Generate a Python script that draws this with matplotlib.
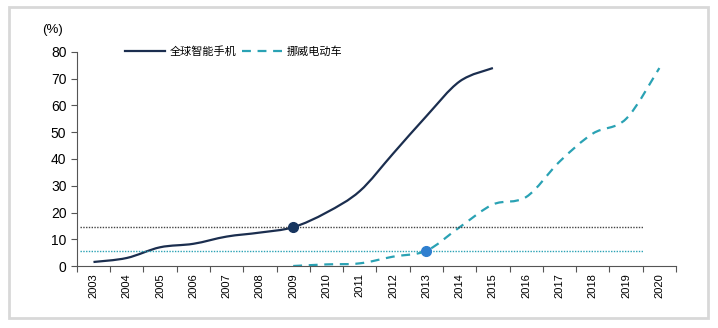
import numpy as np
import matplotlib.pyplot as plt
from matplotlib.patches import Rectangle, PathPatch
from matplotlib.path import Path
from matplotlib.lines import Line2D

plt.rcParams['font.family'] = ['Liberation Sans', 'Noto Sans CJK SC', 'DejaVu Sans']

years = [str(y) for y in range(2003, 2021)]
phone_years = list(range(2003, 2016))
phone_share = [1.5, 3.0, 7.0, 8.3, 11.0, 12.5, 14.5, 20.0, 28.0, 42.0, 56.0, 69.0, 74.0]
ev_years = list(range(2009, 2021))
ev_share = [0.0, 0.6, 1.0, 3.5, 5.7, 14.5, 23.0, 25.8, 39.0, 49.5, 55.0, 74.0]
phone_ref = 14.5
ev_ref = 5.7

navy = '#1b2e4f'
teal = '#2aa2b4'


def smooth_path(x, y):
    # Excel-style smoothed line: cubic Bezier through every data point
    p = np.column_stack([x, y]).astype(float)
    n = len(p)
    verts = [p[0]]
    codes = [Path.MOVETO]
    for i in range(n - 1):
        p0 = p[i - 1] if i > 0 else p[i]
        p3 = p[i + 2] if i + 2 < n else p[i + 1]
        c1 = p[i] + (p[i + 1] - p0) / 6
        c2 = p[i + 1] - (p3 - p[i]) / 6
        verts += [c1, c2, p[i + 1]]
        codes += [Path.CURVE4] * 3
    return Path(verts, codes)


fig = plt.figure(figsize=(7.18, 3.28), dpi=100)
ax = fig.add_axes([0.107, 0.189, 0.8345, 0.6525])

xp = [y - 2003 for y in phone_years]
xe = [y - 2003 for y in ev_years]

ax.plot([-0.4, 16.5], [phone_ref, phone_ref], color='#444444', lw=1.0, ls=(0, (1, 1)))
ax.plot([-0.4, 16.5], [ev_ref, ev_ref], color=teal, lw=1.0, ls=(0, (1, 1)))

ax.add_patch(PathPatch(smooth_path(xp, phone_share), fill=False, edgecolor=navy, lw=1.6))
ax.add_patch(PathPatch(smooth_path(xe, ev_share), fill=False, edgecolor=teal, lw=1.6,
                       ls=(0, (4, 3))))

ax.plot(6, phone_ref, 'o', color='#17355f', ms=7, zorder=5)
ax.plot(10, ev_ref, 'o', color='#2f7fcf', ms=7, zorder=5)

ax.set_xlim(-0.5, 17.5)
ax.set_ylim(0, 80)
ax.set_yticks(range(0, 81, 10))
ax.set_xticks(np.arange(-0.5, 18, 1))
ax.set_xticklabels([])
ax.set_xticks(range(len(years)), minor=True)
ax.set_xticklabels(years, minor=True, rotation=90, fontsize=8)
ax.tick_params(axis='x', which='minor', length=0, pad=5)
ax.tick_params(axis='x', which='major', length=4, direction='out', color='#555555')
ax.tick_params(axis='y', length=4, direction='out', labelsize=10, color='#555555')

for s in ['top', 'right']:
    ax.spines[s].set_visible(False)
ax.spines['left'].set_color('#555555')
ax.spines['bottom'].set_color('#555555')

fig.text(0.058, 0.9, '(%)', fontsize=9.5)

handles = [Line2D([], [], color=navy, lw=1.6),
           Line2D([], [], color=teal, lw=1.6, ls=(0, (4, 3)))]
ax.legend(handles, ['全球智能手机', '挪威电动车'], loc='lower left',
          bbox_to_anchor=(0.073, 0.955), ncol=2, frameon=False,
          handlelength=3.6, columnspacing=0.5, handletextpad=0.4,
          prop={'family': 'Noto Sans CJK SC', 'size': 8}, borderaxespad=0)

fig.patches.append(Rectangle((0.012, 0.03), 0.974, 0.95, transform=fig.transFigure,
                             fill=False, edgecolor='#d8d8d8', lw=2))

fig.savefig('out.png', dpi=100)
